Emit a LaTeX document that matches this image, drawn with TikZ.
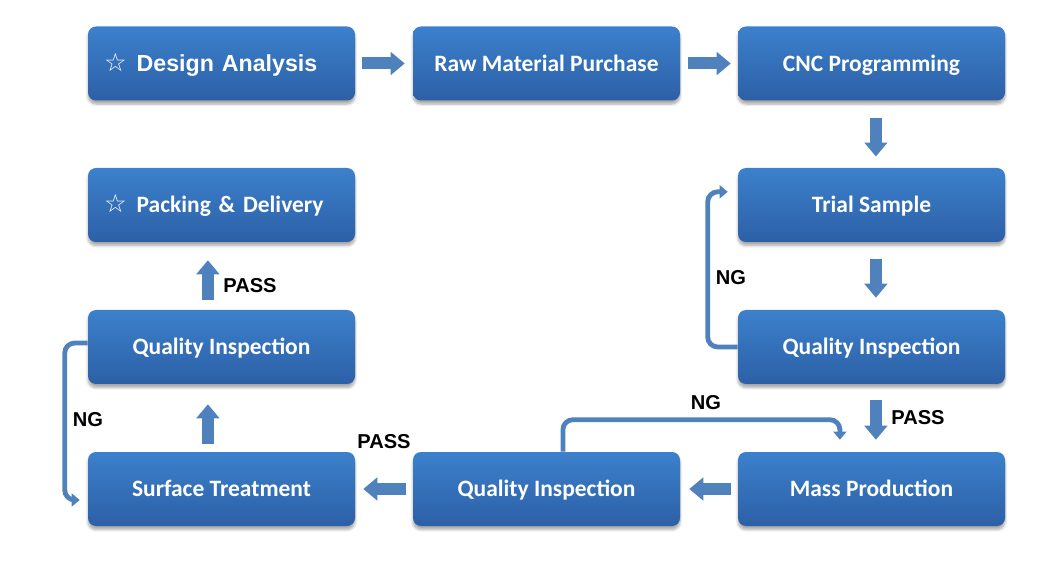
\documentclass[tikz,border=0pt]{standalone}
\usepackage{fontspec}
\setmainfont{Carlito}
\newfontfamily\arialfont{Liberation Sans}
\newfontfamily\starfont{DejaVu Sans}
\usepackage{tikz}
\usetikzlibrary{arrows.meta}
\usetikzlibrary{shadows.blur}
\definecolor{boxtop}{RGB}{60,128,204}
\definecolor{boxbot}{RGB}{44,96,166}
\definecolor{arrowblue}{RGB}{79,129,189}
\tikzstyle{box}=[rounded corners=0.2cm, minimum width=6.675cm, minimum height=1.85cm, inner sep=0pt, text height=0.38cm, text depth=0cm, top color=boxtop, bottom color=boxbot, text=white, font=\fontsize{16.7}{19}\selectfont\bfseries, blur shadow={shadow xshift=0pt, shadow yshift=-2.5pt, shadow opacity=35, shadow blur steps=6}]
\tikzstyle{sbox}=[box, text width=5.875cm, inner xsep=0.4cm, align=left]
\tikzstyle{bigarrow}=[draw=arrowblue, line width=0.3cm, -{Triangle[length=0.35cm, width=0.56cm]}]
\tikzstyle{ngarrow}=[draw=arrowblue, line width=0.12cm, rounded corners=0.25cm, -{Triangle[length=0.2cm, width=0.32cm]}]
\tikzstyle{tag}=[font=\arialfont\fontsize{14.3}{16}\selectfont\bfseries, inner sep=0pt]

\begin{document}
\begin{tikzpicture}
        \useasboundingbox (0,0) rectangle (26.5,-14.125);
        \node[sbox] (design) at (5.5375, -1.5875) {{\starfont\fontsize{18}{18}\selectfont\mdseries ☆}\hspace{0.25cm}{\arialfont\fontsize{16.5}{19}\selectfont Design Analysis}};
        \node[box] (purchase) at (13.6625, -1.5875) {Raw Material Purchase};
        \node[box] (cnc) at (21.7875, -1.5875) {CNC Programming};
        \node[box] (trial) at (21.7875, -5.125) {Trial Sample};
        \node[box] (check1) at (21.7875, -8.675) {Quality Inspection};
        \node[box] (mass) at (21.7875, -12.225) {Mass Production};
        \node[box] (check2) at (13.6625, -12.225) {Quality Inspection};
        \node[box] (surface) at (5.5375, -12.225) {Surface Treatment};
        \node[box] (check3) at (5.5375, -8.675) {Quality Inspection};
        \node[sbox] (packing) at (5.5375, -5.125) {{\starfont\fontsize{18}{18}\selectfont\mdseries ☆}\hspace{0.25cm}Packing \& Delivery};
        \draw[bigarrow, shorten <=0.175cm, shorten >=0.2cm] (design.east) -- (purchase.west);
        \draw[bigarrow, shorten <=0.2cm, shorten >=0.175cm] (purchase.east) -- (cnc.west);
        \draw[bigarrow, shorten <=0.42cm, shorten >=0.28cm] ([xshift=0.11cm]cnc.south) -- ([xshift=0.11cm]trial.north);
        \draw[bigarrow, shorten <=0.42cm, shorten >=0.3cm] ([xshift=0.11cm]trial.south) -- ([xshift=0.11cm]check1.north);
        \draw[bigarrow, shorten <=0.4cm, shorten >=0.3cm] ([xshift=0.11cm]check1.south) -- ([xshift=0.11cm]mass.north);
        \draw[bigarrow, shorten <=0.175cm, shorten >=0.225cm] (mass.west) -- (check2.east);
        \draw[bigarrow, shorten <=0.175cm, shorten >=0.2cm] (check2.west) -- (surface.east);
        \draw[bigarrow, shorten <=0.2cm, shorten >=0.5cm] ([xshift=-0.34cm]surface.north) -- ([xshift=-0.34cm]check3.south);
        \draw[bigarrow, shorten <=0.25cm, shorten >=0.45cm] ([xshift=-0.34cm]check3.north) -- ([xshift=-0.34cm]packing.south);
        \draw[ngarrow] (check1.west) -- ++(-0.75,0) |- ([xshift=-0.25cm, yshift=0.33cm]trial.west);
        \draw[ngarrow] ([xshift=0.41cm]check2.north) -- ++(0,0.8) -| ([xshift=-0.79cm, yshift=0.3cm]mass.north);
        \draw[ngarrow] ([yshift=0.1cm]check3.west) -- ++(-0.575,0) |- ([xshift=-0.2cm, yshift=-0.275cm]surface.west);
        \node[tag] (ng1) at (18.275, -6.95) {NG};
        \node[tag] (pass1) at (22.95, -10.45) {PASS};
        \node[tag] (ng2) at (17.65, -10.075) {NG};
        \node[tag] (pass2) at (9.6, -11.05) {PASS};
        \node[tag] (ng3) at (2.2, -10.5) {NG};
        \node[tag] (pass3) at (6.25, -7.15) {PASS};
    \end{tikzpicture}
\end{document}
